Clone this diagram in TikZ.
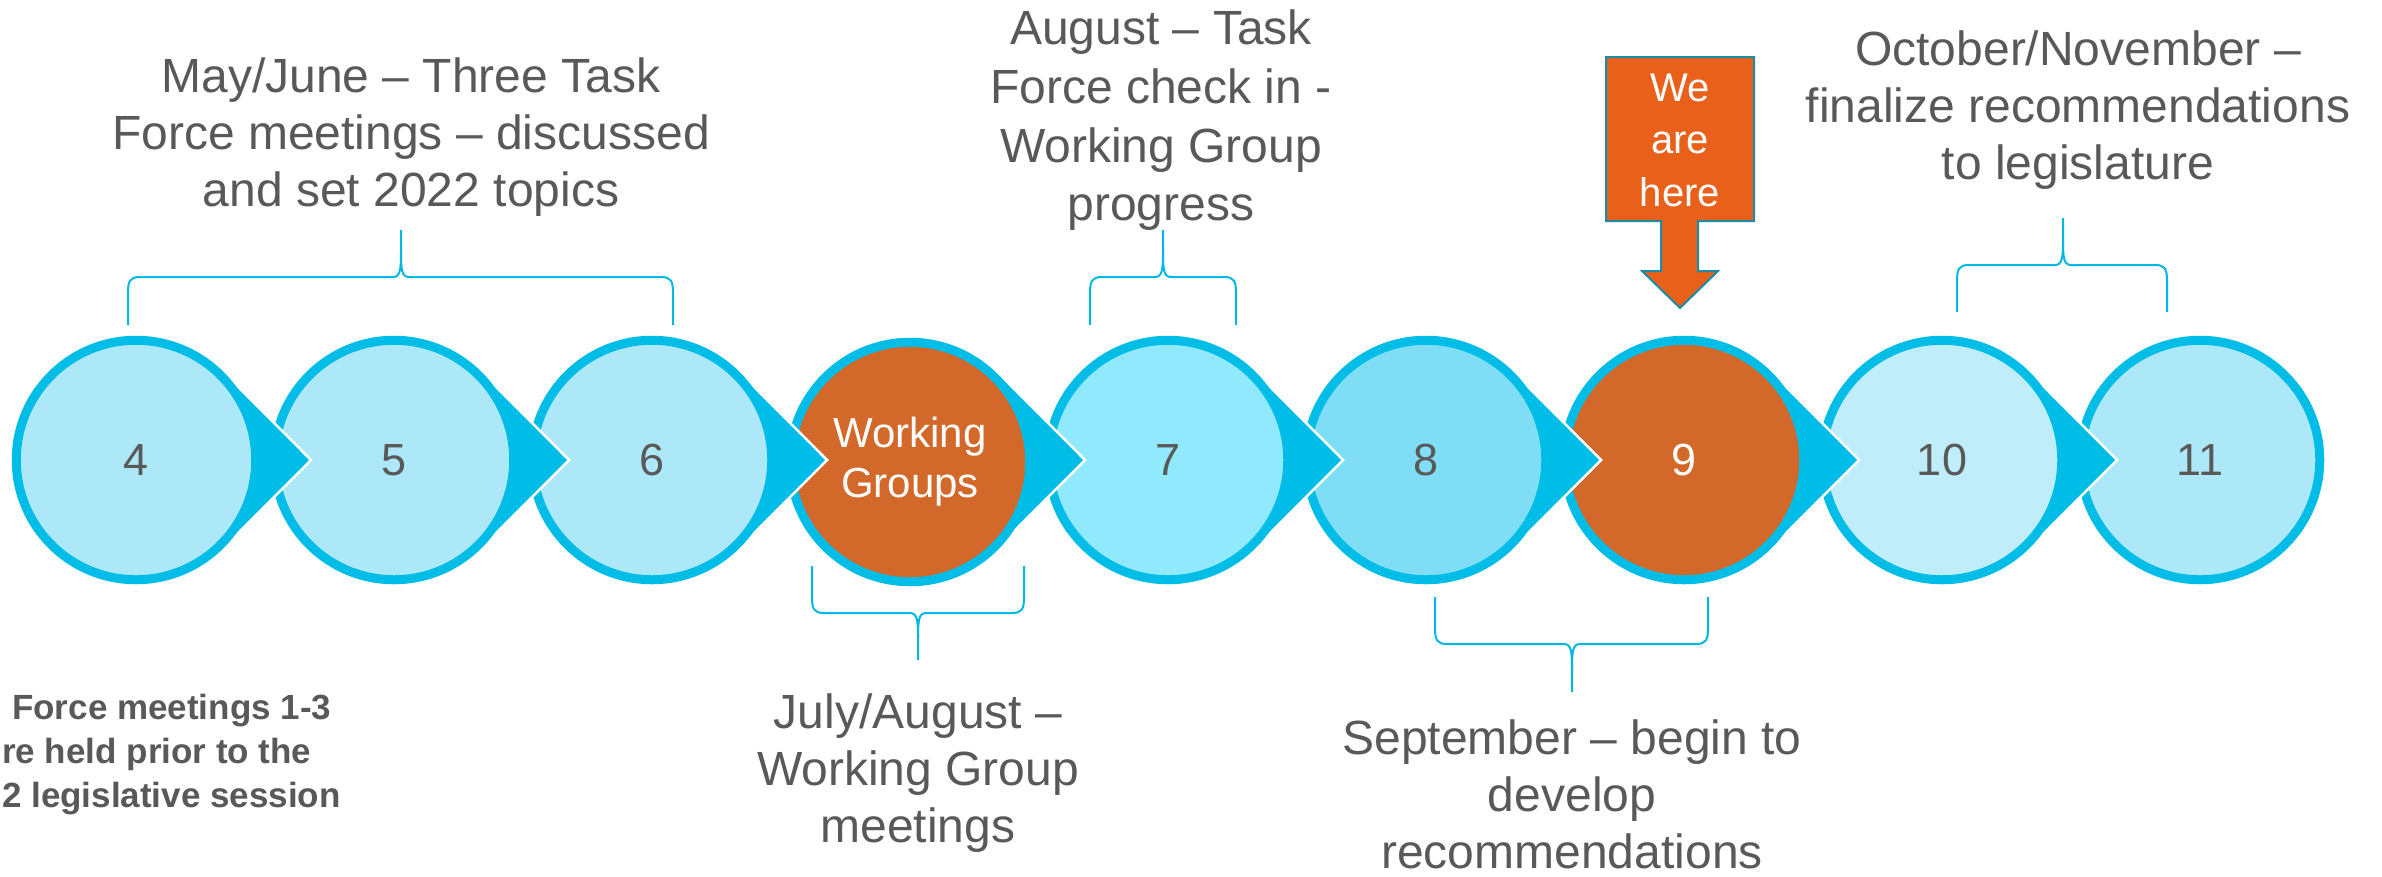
\documentclass[tikz,border=0pt]{standalone}
\usepackage{fontspec}
\setmainfont{Liberation Sans}
\usetikzlibrary{calc}
\definecolor{ring}{HTML}{00BDE8}
\definecolor{fillA}{HTML}{ACE8F7}
\definecolor{fillB}{HTML}{91E9FE}
\definecolor{fillC}{HTML}{7FDDF5}
\definecolor{fillD}{HTML}{BFEEFA}
\definecolor{orangeC}{HTML}{D2692A}
\definecolor{orangeB}{HTML}{E9601A}
\definecolor{boxline}{HTML}{1A8CA6}
\definecolor{txt}{HTML}{595959}
\definecolor{bracec}{HTML}{00B8E6}
\newcommand\tipat[1]{%
  \fill[ring] ({#1+175},460) -- ({#1+87.7},372.5) -- ({#1+87.7},547.5) -- cycle;
  \draw[tipedge] ({#1+87.7},372.5) -- ({#1+175},460) -- ({#1+87.7},547.5);}
\newcommand\mybrace[7]{%
  \draw[bracestyle] (#1,#4) -- (#1,{#5+16*#7}) .. controls (#1,{#5+4*#7}) and ({#1+2},#5) .. ({#1+12},#5)
     -- ({#3-8},#5) .. controls ({#3-1},#5) and (#3,{#5-7*#7}) .. (#3,{#5-24*#7}) -- (#3,#6);
  \draw[bracestyle] (#2,#4) -- (#2,{#5+16*#7}) .. controls (#2,{#5+4*#7}) and ({#2-2},#5) .. ({#2-12},#5)
     -- ({#3+8},#5) .. controls ({#3+1},#5) and (#3,{#5-7*#7}) .. (#3,{#5-24*#7});}
\begin{document}
\begin{tikzpicture}[x=1pt,y=-1pt,
  stage/.style={circle, draw=ring, line width=9pt, minimum size=239.5pt, inner sep=0pt,
                text=txt, font=\fontsize{45}{54}\selectfont},
  tipedge/.style={draw=white, line width=2.5pt},
  bracestyle/.style={draw=bracec, line width=2pt},
  lbl/.style={align=center, text=txt, inner sep=0pt, font=\fontsize{48}{57}\selectfont},
  boldlbl/.style={text=txt, inner sep=0pt, anchor=base west, font=\fontsize{35}{44}\selectfont\bfseries}]
\useasboundingbox (0,0) rectangle (2382,876);
\fill[white] (0,0) rectangle (2382,876);

% stages, drawn right to left so each tip lies over the next circle
\node[stage, fill=fillA] (c11) at (2200,460) {11};
\tipat{1942}
\node[stage, fill=fillD] (c10) at (1942,460) {10};
\tipat{1684}
\node[stage, fill=orangeC, text=white] (c9) at (1684,460) {9};
\tipat{1426}
\node[stage, fill=fillC] (c8) at (1426,460) {8};
\tipat{1168}
\node[stage, fill=fillB] (c7) at (1168,460) {7};
\tipat{910}
\node[stage, fill=orangeC, text=white, align=center, font=\fontsize{42}{50}\selectfont] (wg) at (910,462) {Working\\Groups};
\tipat{652}
\node[stage, fill=fillA] (c6) at (652,460) {6};
\tipat{394}
\node[stage, fill=fillA] (c5) at (394,460) {5};
\tipat{136}
\node[stage, fill=fillA] (c4) at (136,460) {4};

% braces
\mybrace{128}{673}{401}{325}{277}{230}{1}
\mybrace{1090}{1236}{1163}{325}{277}{230}{1}
\mybrace{1957}{2167}{2063}{312}{265}{218}{1}
\mybrace{812}{1024}{918}{566}{613}{660}{-1}
\mybrace{1435}{1708}{1572}{597}{644}{692}{-1}

% labels
\node[lbl] (t1) at (411,137) {May/June -- Three Task\\Force meetings -- discussed\\and set 2022 topics};
\node[lbl, font=\fontsize{48}{58.7}\selectfont] (t2) at (1161,120.5) {August -- Task\\Force check in -\\Working Group\\progress};
\node[lbl] (t3) at (2078,110) {October/November --\\finalize recommendations\\to legislature};
\node[lbl] (t4) at (918,773) {July/August --\\Working Group\\meetings};
\node[lbl] (t5) at (1572,794) {September -- begin to\\develop\\recommendations};
\node[boldlbl] (t6a) at (12,719) {Force meetings 1-3};
\node[boldlbl] (t6b) at (2,763) {re held prior to the};
\node[boldlbl] (t6c) at (2,807) {2 legislative session};

% we are here
\path[fill=orangeB, draw=boxline, line width=2pt, line join=miter]
  (1606,57) -- (1754,57) -- (1754,221) -- (1698,221) -- (1698,271) -- (1718,271)
  -- (1680,308) -- (1642,271) -- (1661,271) -- (1661,221) -- (1606,221) -- cycle;
\node[align=center, text=white, inner sep=0pt, font=\fontsize{40}{52.5}\selectfont] (here) at (1680,140) {We\\are\\here};
\end{tikzpicture}
\end{document}
